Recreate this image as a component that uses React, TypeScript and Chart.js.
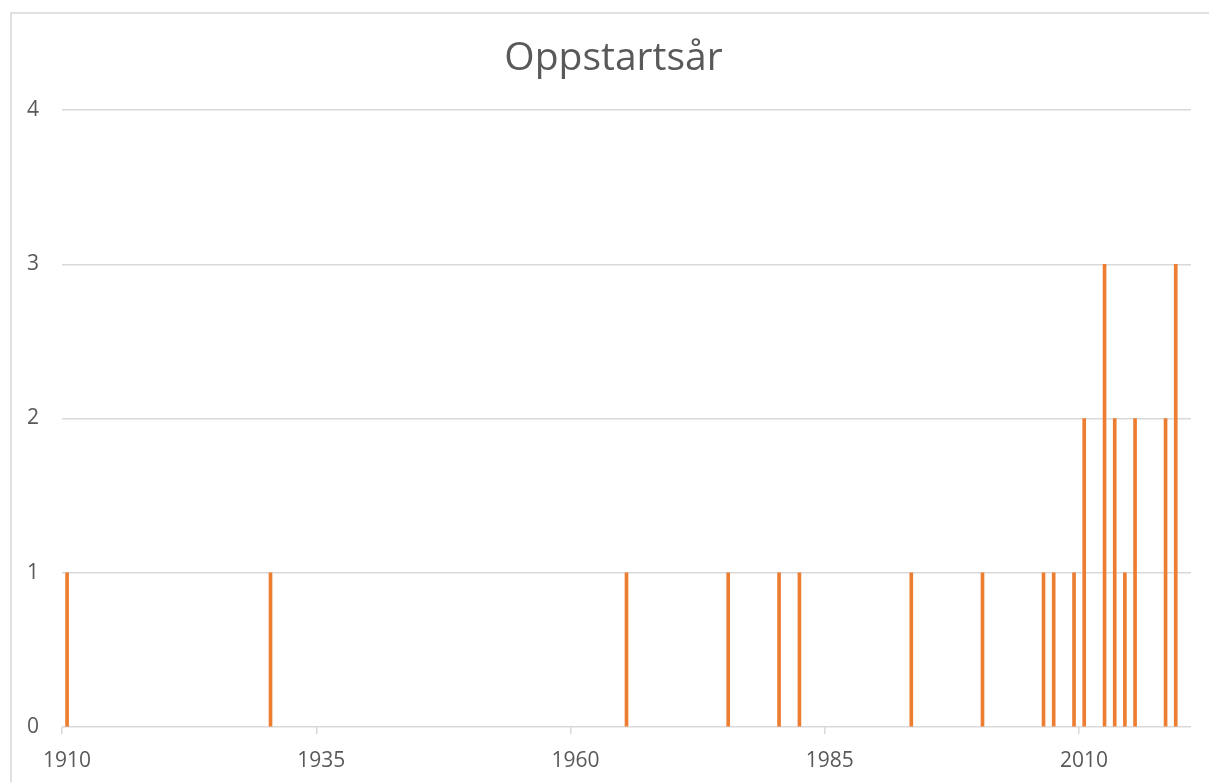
import React, { useEffect, useRef } from "react";
import { Chart, registerables } from "chart.js";

Chart.register(...registerables);

const chartTitle = "Oppstartsår";
const startYears = [1910, 1930, 1965, 1975, 1980, 1982, 1993, 2000, 2006, 2007, 2009, 2010, 2012, 2013, 2014, 2015, 2018, 2019];
const startCounts = [1, 1, 1, 1, 1, 1, 1, 1, 1, 1, 1, 2, 3, 2, 1, 2, 2, 3];
const xTickYears = [1910, 1935, 1960, 1985, 2010];
const yTickValues = [0, 1, 2, 3, 4];
const axisFirstYear = 1910;
const axisLastYear = 2020;

const FONT = "'Open Sans', 'Noto Sans', sans-serif";
const TEXT = "#595959";
const GRID = "#d9d9d9";
const BAR = "#ED7D31";

export default function App() {
  const canvasRef = useRef<HTMLCanvasElement | null>(null);

  useEffect(() => {
    const canvas = canvasRef.current;
    if (!canvas) return;
    const chart = new Chart(canvas, {
      type: "bar",
      data: {
        datasets: [
          {
            label: chartTitle,
            data: startYears.map((y, i) => ({ x: y, y: startCounts[i] })),
            backgroundColor: BAR,
            borderWidth: 0,
            barThickness: 3,
            xAxisID: "xb",
            yAxisID: "y",
          },
        ],
      },
      options: {
        responsive: false,
        animation: false,
        devicePixelRatio: 1,
        layout: { padding: { top: 110, right: 18, bottom: 0, left: 0 } },
        plugins: {
          legend: { display: false },
          tooltip: { enabled: false },
          title: { display: false },
        },
        scales: {
          x: {
            type: "linear",
            position: "bottom",
            offset: false,
            min: axisFirstYear,
            max: axisLastYear + 1,
            afterBuildTicks: (s: any) => {
              s.ticks = xTickYears.map((v) => ({ value: v }));
            },
            afterFit: (s: any) => {
              s.height = 55;
            },
            grid: {
              offset: false,
              drawOnChartArea: false,
              drawTicks: true,
              tickLength: 7,
              color: GRID,
              lineWidth: 1.5,
            },
            border: { display: false },
            ticks: {
              color: TEXT,
              font: { family: FONT, size: 21 },
              labelOffset: 5,
              padding: 14,
              maxRotation: 0,
              autoSkip: false,
              callback: (v: any) => String(v),
            },
          },
          xb: {
            type: "linear",
            display: false,
            offset: false,
            grid: { offset: false },
            min: axisFirstYear - 0.5,
            max: axisLastYear + 0.5,
          },
          y: {
            type: "linear",
            min: 0,
            max: 4,
            afterBuildTicks: (s: any) => {
              s.ticks = yTickValues.map((v) => ({ value: v }));
            },
            afterFit: (s: any) => {
              s.width = 62;
            },
            grid: { color: GRID, lineWidth: 1.5, drawTicks: false },
            border: { display: false },
            ticks: {
              color: TEXT,
              font: { family: FONT, size: 21 },
              padding: 23,
              callback: (v: any) => String(v),
            },
          },
        },
      },
    } as any);
    return () => chart.destroy();
  }, []);

  return (
    <div
      style={{
        position: "fixed",
        left: 0,
        top: 0,
        width: 1209,
        height: 782,
        overflow: "hidden",
        background: "#ffffff",
      }}
    >
      <div
        style={{
          position: "absolute",
          left: 10,
          top: 12,
          width: 1260,
          height: 820,
          border: "2px solid #e0e0e0",
          boxSizing: "border-box",
        }}
      />
      <canvas
        ref={canvasRef}
        width={1209}
        height={782}
        style={{ position: "absolute", left: 0, top: 0, width: 1209, height: 782 }}
      />
      <div
        style={{
          position: "absolute",
          left: 0,
          top: 35,
          width: 1227,
          textAlign: "center",
          fontFamily: FONT,
          fontSize: 39,
          lineHeight: "39px",
          color: TEXT,
          whiteSpace: "nowrap",
        }}
      >
        {chartTitle}
      </div>
    </div>
  );
}
